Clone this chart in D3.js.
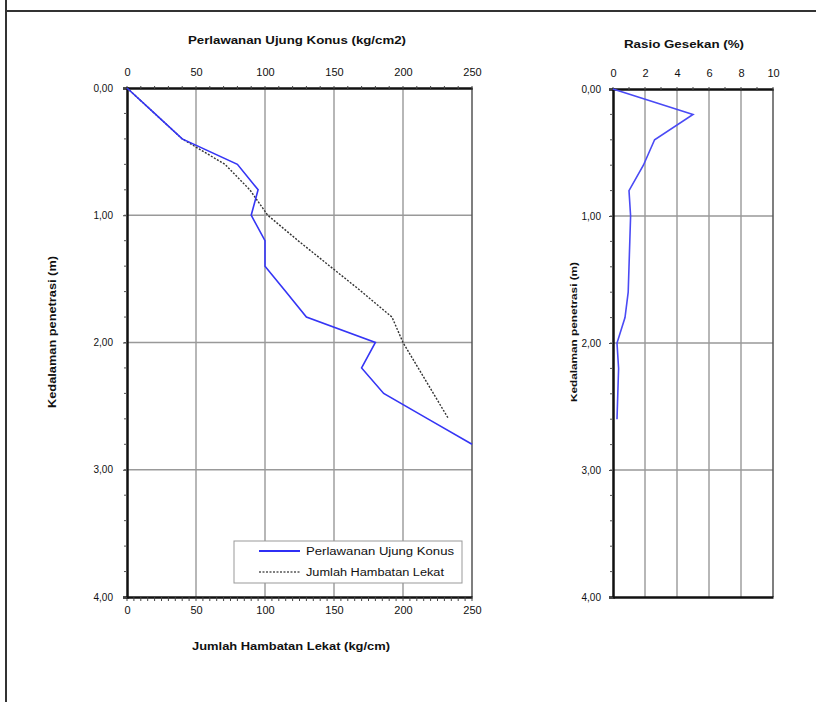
<!DOCTYPE html>
<html>
<head>
<meta charset="utf-8">
<script src="https://cdn.jsdelivr.net/npm/d3@7"></script>
<style>
  body { margin: 0; background: #fff; }
  svg text { font-family: "Liberation Sans", Arial, sans-serif; fill: #111; }
</style>
</head>
<body>
<svg id="chart" width="816" height="702"></svg>
<script>
// depth (m) for the cone data
const depth = [0, 0.2, 0.4, 0.6, 0.8, 1.0, 1.2, 1.4, 1.6, 1.8, 2.0, 2.2, 2.4, 2.6, 2.8];
const konus = [0, 20, 40, 80, 95, 90, 100, 100, 115, 130, 180, 170, 186, 218, 250];
const depthJhl = [0, 0.2, 0.4, 0.6, 0.8, 1.0, 1.2, 1.4, 1.6, 1.8, 2.0, 2.2, 2.4, 2.6];
const jhl = [0, 20, 40, 71, 89, 102, 124, 147, 170, 192, 200, 211, 222, 233];
const depthRatio = [0, 0.2, 0.4, 0.6, 0.8, 1.0, 1.2, 1.4, 1.6, 1.8, 2.0, 2.2, 2.4, 2.6];
const ratio = [0, 5.0, 2.6, 1.9, 1.0, 1.1, 1.05, 1.0, 0.95, 0.75, 0.25, 0.35, 0.3, 0.25];
const leftTicks = [0, 50, 100, 150, 200, 250];
const rightTicks = [0, 2, 4, 6, 8, 10];
const depthTicks = [0, 1, 2, 3, 4];

const svg = d3.select("#chart");
const fmt = (d) => d.toFixed(2).replace(".", ",");

// page frame
svg.append("line").attr("x1", 6).attr("x2", 6).attr("y1", 0).attr("y2", 702)
  .attr("stroke", "#333").attr("stroke-width", 2);
svg.append("line").attr("x1", 6).attr("x2", 816).attr("y1", 11).attr("y2", 11)
  .attr("stroke", "#333").attr("stroke-width", 2);

// stretched label, the source font runs wide
function label(x, y, txt, size, len, bold) {
  return svg.append("text").attr("x", x).attr("y", y)
    .attr("text-anchor", "middle").attr("font-size", size)
    .attr("font-weight", bold ? "bold" : null)
    .attr("textLength", len).attr("lengthAdjust", "spacingAndGlyphs")
    .text(txt);
}

function panel(opts) {
  const x = d3.scaleLinear().domain(opts.xDomain).range([opts.x0, opts.x1]);
  const y = d3.scaleLinear().domain([0, 4]).range([opts.y0, opts.y1]);
  const g = svg.append("g");

  // grid
  g.selectAll(".vg").data(opts.ticks.slice(1, -1)).enter().append("line")
    .attr("x1", (d) => x(d)).attr("x2", (d) => x(d))
    .attr("y1", y(0)).attr("y2", y(4))
    .attr("stroke", "#999").attr("stroke-width", 1.4);
  g.selectAll(".hg").data(depthTicks.slice(1, -1)).enter().append("line")
    .attr("x1", x.range()[0]).attr("x2", x.range()[1])
    .attr("y1", (d) => y(d)).attr("y2", (d) => y(d))
    .attr("stroke", "#999").attr("stroke-width", 1.4);

  // right border
  g.append("line").attr("x1", x.range()[1]).attr("x2", x.range()[1])
    .attr("y1", y(0)).attr("y2", y(4)).attr("stroke", "#555").attr("stroke-width", 1.5);

  // top axis
  const top = d3.axisTop(x).tickValues(opts.ticks).tickSize(0).tickPadding(12)
    .tickFormat(d3.format("d"));
  const ta = g.append("g").attr("transform", `translate(0,${y(0)})`).call(top);
  ta.select(".domain").attr("stroke", "#111").attr("stroke-width", 2.5);
  ta.selectAll("text").attr("font-size", 11).attr("fill", "#111");
  g.selectAll(".tm").data(d3.range(opts.xDomain[0], opts.xDomain[1] + 0.001, opts.minor))
    .enter().append("line")
    .attr("x1", (d) => x(d)).attr("x2", (d) => x(d))
    .attr("y1", y(0) - 2).attr("y2", y(0) + 2).attr("stroke", "#444");

  // bottom axis
  const bot = d3.axisBottom(x).tickValues(opts.bottom ? opts.ticks : []).tickSize(0)
    .tickPadding(9).tickFormat(d3.format("d"));
  const ba = g.append("g").attr("transform", `translate(0,${y(4)})`).call(bot);
  ba.select(".domain").attr("stroke", "#111").attr("stroke-width", 2.5);
  ba.selectAll("text").attr("font-size", 11).attr("fill", "#111");
  if (opts.bottom) {
    g.selectAll(".bm").data(d3.range(opts.xDomain[0], opts.xDomain[1] + 0.001, opts.minor / 2))
      .enter().append("line")
      .attr("x1", (d) => x(d)).attr("x2", (d) => x(d))
      .attr("y1", y(4)).attr("y2", y(4) + 4).attr("stroke", "#444");
  }

  // left axis
  const left = d3.axisLeft(y).tickValues(depthTicks).tickSize(4).tickPadding(opts.yPad).tickFormat(fmt);
  const la = g.append("g").attr("transform", `translate(${x.range()[0]},0)`).call(left);
  la.select(".domain").attr("stroke", "#111").attr("stroke-width", 2.5);
  la.selectAll("line").attr("stroke", "#444");
  la.selectAll("text").attr("font-size", 10).attr("fill", "#111");
  g.selectAll(".lm").data(d3.range(0.2, 4, 0.2)).enter().append("line")
    .attr("x1", x.range()[0] - 3).attr("x2", x.range()[0])
    .attr("y1", (d) => y(d)).attr("y2", (d) => y(d)).attr("stroke", "#555");

  // titles
  label(opts.titleX, opts.titleY, opts.title, 11, opts.titleLen, true);
  label(0, 0, "Kedalaman penetrasi (m)", opts.yTitleSize, opts.yTitleLen, true)
    .attr("transform", `translate(${opts.yTitleX},332) rotate(-90)`);

  return { x, y, g };
}

// left panel
const p1 = panel({
  xDomain: [0, 250], x0: 127, x1: 472, y0: 88, y1: 597,
  ticks: leftTicks, minor: 10, bottom: true, yPad: 10,
  title: "Perlawanan Ujung Konus (kg/cm2)", titleX: 297, titleY: 44, titleLen: 218,
  yTitleX: 56, yTitleSize: 10.5, yTitleLen: 152
});

const line1 = d3.line().x((d) => p1.x(d[0])).y((d) => p1.y(d[1]));
p1.g.append("path").datum(jhl.map((v, i) => [v, depthJhl[i]]))
  .attr("d", line1).attr("fill", "none").attr("stroke", "#333")
  .attr("stroke-width", 1.4).attr("stroke-dasharray", "2,1.5");
p1.g.append("path").datum(konus.map((v, i) => [v, depth[i]]))
  .attr("d", line1).attr("fill", "none").attr("stroke", "#3535f5").attr("stroke-width", 1.6);

label(291, 650, "Jumlah Hambatan Lekat (kg/cm)", 11, 198, true);

// legend
const lg = svg.append("g").attr("transform", "translate(234,541)");
lg.append("rect").attr("width", 228).attr("height", 42)
  .attr("fill", "#fff").attr("stroke", "#999");
lg.append("line").attr("x1", 25).attr("x2", 66).attr("y1", 10).attr("y2", 10)
  .attr("stroke", "#2f2ff5").attr("stroke-width", 1.8);
lg.append("line").attr("x1", 25).attr("x2", 66).attr("y1", 31).attr("y2", 31)
  .attr("stroke", "#555").attr("stroke-width", 1.4).attr("stroke-dasharray", "2,1.5");
lg.append("text").attr("x", 72).attr("y", 13.5).attr("font-size", 10)
  .attr("textLength", 148).attr("lengthAdjust", "spacingAndGlyphs").text("Perlawanan Ujung Konus");
lg.append("text").attr("x", 72).attr("y", 34.5).attr("font-size", 10)
  .attr("textLength", 138).attr("lengthAdjust", "spacingAndGlyphs").text("Jumlah Hambatan Lekat");

// right panel
const p2 = panel({
  xDomain: [0, 10], x0: 613, x1: 773, y0: 89, y1: 597,
  ticks: rightTicks, minor: 1, bottom: false, yPad: 8,
  title: "Rasio Gesekan (%)", titleX: 684, titleY: 48, titleLen: 120,
  yTitleX: 577, yTitleSize: 9.5, yTitleLen: 140
});
const line2 = d3.line().x((d) => p2.x(d[0])).y((d) => p2.y(d[1]));
p2.g.append("path").datum(ratio.map((v, i) => [v, depthRatio[i]]))
  .attr("d", line2).attr("fill", "none").attr("stroke", "#4a4af5").attr("stroke-width", 1.6);
</script>
</body>
</html>
